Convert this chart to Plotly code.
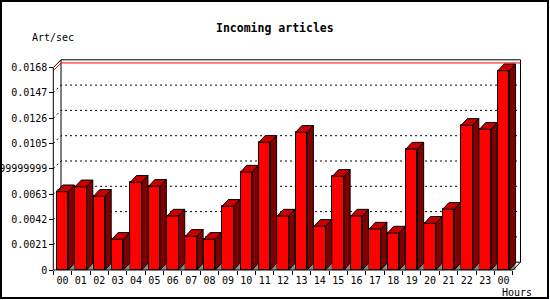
import plotly.graph_objects as go

# ---------------- data ----------------
hours = ["00", "01", "02", "03", "04", "05", "06", "07", "08", "09", "10", "11",
         "12", "13", "14", "15", "16", "17", "18", "19", "20", "21", "22", "23", "00"]
rate = [0.0065, 0.00691, 0.00612, 0.00255, 0.00728, 0.00695, 0.00448, 0.0028,
        0.00255, 0.00529, 0.00813, 0.0106, 0.00448, 0.01143, 0.00363, 0.00778,
        0.00448, 0.0034, 0.00307, 0.01004, 0.00388, 0.00504, 0.01201, 0.01168,
        0.01654]
ytick_vals = [0, 0.0021, 0.0042, 0.0063, 0.0084, 0.0105, 0.0126, 0.0147, 0.0168]
ytick_text = ["0", "0.0021", "0.0042", "0.0063", "0.00839999999999", "0.0105",
              "0.0126", "0.0147", "0.0168"]
title_text = "Incoming articles"
ylabel = "Art/sec"
xlabel = "Hours"

# ---------------- geometry (pixels) ----------------
W, H = 550, 300
L, R, T, B = 52, 522, 57, 272          # plot area in px
AX_X, AX_Y = 53.3, 270.0               # front axes corner in px
UX = 18.38                             # px per category
UY = 25.3 / 0.0021                     # px per value unit
n = len(hours)
xs = list(range(n))

BW = 11.5 / UX                         # bar front width
BDX, BDY = 6.2 / UX, 6.7 / UY          # bar depth
WDX, WDY = 7.7 / UX, 7.8 / UY          # wall depth

xr = [(L - AX_X) / UX - 0.5, (R - AX_X) / UX - 0.5]
yr = [(AX_Y - B) / UY, (AX_Y - T) / UY]


def px_x(p):
    return (p - L) / (R - L)


def px_y(p):
    return (B - p) / (B - T)


FONT = "DejaVu Sans Mono"
RED, DARK, TOP, GRAY = "#ff0000", "#800000", "#c80000", "#8c8c8c"

fig = go.Figure()

# gray floor triangles
tx, ty = [], []
for i, v in zip(xs, rate):
    xr_ = i + BW / 2
    tx += [xr_, xr_ + BDX, xr_ + BDX, xr_, None]
    ty += [0, BDY, 0, 0, None]
fig.add_trace(go.Scatter(x=tx, y=ty, fill="toself", fillcolor=GRAY, mode="lines",
                         line=dict(width=0, color=GRAY), hoverinfo="skip", showlegend=False))

# side faces
sx, sy = [], []
for i, v in zip(xs, rate):
    xr_ = i + BW / 2
    sx += [xr_, xr_ + BDX, xr_ + BDX, xr_, xr_, None]
    sy += [0, BDY, v + BDY, v, 0, None]
fig.add_trace(go.Scatter(x=sx, y=sy, fill="toself", fillcolor=DARK, mode="lines",
                         line=dict(width=1, color="black"), hoverinfo="skip", showlegend=False))

# top faces
px_, py_ = [], []
for i, v in zip(xs, rate):
    xl, xr_ = i - BW / 2, i + BW / 2
    px_ += [xl, xl + BDX, xr_ + BDX, xr_, xl, None]
    py_ += [v, v + BDY, v + BDY, v, v, None]
fig.add_trace(go.Scatter(x=px_, y=py_, fill="toself", fillcolor=TOP, mode="lines",
                         line=dict(width=1, color="black"), hoverinfo="skip", showlegend=False))

# front faces
fig.add_trace(go.Bar(x=xs, y=rate, width=BW, marker=dict(color=RED, line=dict(color="black", width=1)),
                     hoverinfo="skip", showlegend=False))

shapes = []
ymax = ytick_vals[-1]
# back wall
shapes.append(dict(type="rect", xref="x", yref="y", x0=-0.5 + WDX, y0=WDY, x1=n - 0.5 + WDX,
                   y1=ymax + WDY, line=dict(color="black", width=1), fillcolor="white", layer="below"))
# grid lines
for v in ytick_vals[1:-1]:
    shapes.append(dict(type="path", xref="x", yref="y", layer="below",
                       path=f"M {-0.5},{v} L {-0.5 + WDX},{v + WDY} L {n - 0.5 + WDX},{v + WDY}",
                       line=dict(color="black", width=1, dash="2px,3px")))
# max line
vmax = max(rate)
shapes.append(dict(type="path", xref="x", yref="y", layer="below",
                   path=f"M {-0.5},{vmax} L {-0.5 + WDX},{vmax + WDY} L {n - 0.5 + WDX},{vmax + WDY}",
                   line=dict(color="red", width=1)))
# front y axis + top diagonal
shapes.append(dict(type="path", xref="x", yref="y", layer="above",
                   path=f"M {-0.5},0 L {-0.5},{ymax} L {-0.5 + WDX},{ymax + WDY}",
                   line=dict(color="black", width=1)))
# x axis + right diagonal
shapes.append(dict(type="path", xref="x", yref="y", layer="above",
                   path=f"M {-0.5},0 L {n - 0.5},0 L {n - 0.5 + WDX},{WDY}",
                   line=dict(color="black", width=1)))
# outer border
shapes.append(dict(type="rect", xref="paper", yref="paper", x0=px_x(1), x1=px_x(548),
                   y0=px_y(298), y1=px_y(1), line=dict(color="black", width=2), layer="above"))

annotations = [
    dict(text=f"<b>{title_text}</b>", xref="paper", yref="paper", x=px_x(274.5), y=px_y(27.5),
         xanchor="center", yanchor="middle", showarrow=False,
         font=dict(family=FONT, size=11.5, color="black")),
    dict(text=ylabel, xref="paper", yref="paper", x=px_x(30), y=px_y(37),
         xanchor="left", yanchor="middle", showarrow=False,
         font=dict(family=FONT, size=10, color="black")),
    dict(text=xlabel, xref="paper", yref="paper", x=px_x(533.5), y=px_y(292),
         xanchor="right", yanchor="middle", showarrow=False,
         font=dict(family=FONT, size=10, color="black")),
]

fig.update_layout(
    width=W, height=H,
    margin=dict(l=L, r=W - R, t=T, b=H - B, pad=0, autoexpand=False),
    paper_bgcolor="white", plot_bgcolor="white",
    shapes=shapes, annotations=annotations,
    bargap=0,
    xaxis=dict(range=xr, tickmode="array", tickvals=xs, ticktext=hours, ticks="",
               showgrid=False, zeroline=False, showline=False, anchor="free",
               position=(B - AX_Y) / (B - T), automargin=False, ticklabelstandoff=3,
               tickfont=dict(family=FONT, size=10, color="black"),
               minor=dict(tickmode="array", tickvals=[i - 0.5 for i in range(n + 1)],
                          ticks="outside", ticklen=4, tickcolor="black", tickwidth=1, showgrid=False)),
    yaxis=dict(range=yr, tickmode="array", tickvals=ytick_vals, ticktext=ytick_text,
               ticks="outside", ticklen=4, tickcolor="black", tickwidth=1,
               showgrid=False, zeroline=False, showline=False, anchor="free",
               position=(AX_X - L) / (R - L), automargin=False,
               tickfont=dict(family=FONT, size=10, color="black")),
)

fig.write_html("out.html")
